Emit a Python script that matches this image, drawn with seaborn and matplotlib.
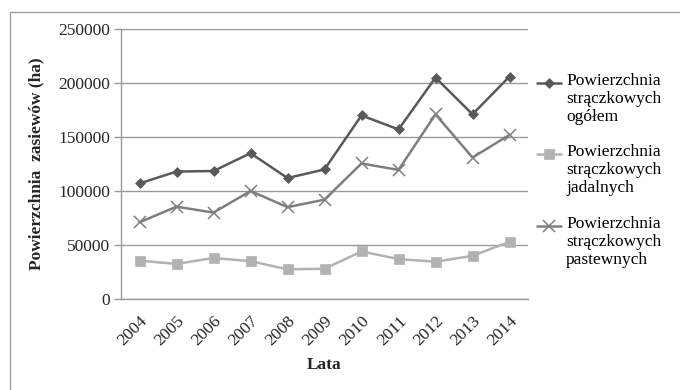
import matplotlib
matplotlib.use("Agg")
import matplotlib.pyplot as plt
from matplotlib.lines import Line2D
from matplotlib.patches import Rectangle
import seaborn as sns
import pandas as pd

years = ["2004", "2005", "2006", "2007", "2008", "2009", "2010", "2011", "2012", "2013", "2014"]
ogolem = [107000, 118000, 118500, 135000, 112000, 120000, 170000, 157000, 205000, 171000, 206000]
jadalne = [35500, 32500, 38000, 35000, 27500, 28000, 44000, 37000, 34500, 40000, 53000]
pastewne = [71000, 85500, 80000, 100000, 85000, 92000, 125500, 119500, 171000, 131000, 152000]

series_names = [
    "Powierzchnia\nstrączkowych\nogółem",
    "Powierzchnia\nstrączkowych\njadalnych",
    "Powierzchnia\nstrączkowych\npastewnych",
]
y_ticks = [0, 50000, 100000, 150000, 200000, 250000]

sns.set_theme(style="white")
plt.rcParams["font.family"] = ["Liberation Serif", "DejaVu Serif"]

colors = ["#595959", "#b2b2b2", "#7f7f7f"]
markers = ["D", "s", "x"]
msizes = [5, 7, 9]

df = pd.DataFrame({
    "Lata": years * 3,
    "val": ogolem + jadalne + pastewne,
    "seria": [series_names[0]] * len(years) + [series_names[1]] * len(years) + [series_names[2]] * len(years),
})

fig = plt.figure(figsize=(6.8, 3.9), dpi=100)
ax = fig.add_axes([121 / 680, 1 - 299 / 390, (528 - 121) / 680, (299 - 29) / 390])

for name, col, mk, ms in zip(series_names, colors, markers, msizes):
    sub = df[df["seria"] == name]
    sns.lineplot(data=sub, x="Lata", y="val", ax=ax, color=col, marker=mk,
                 markersize=ms, linewidth=1.8, markeredgecolor=col,
                 markeredgewidth=1.1 if mk == "x" else 0.5, legend=False, sort=False)

ax.set_xlim(-0.5, len(years) - 0.5)
ax.set_ylim(0, 250000)
ax.set_yticks(y_ticks)
ax.set_yticklabels([str(v) for v in y_ticks], fontsize=12.5)
ax.yaxis.grid(True, color="#999999", linewidth=1)
ax.set_axisbelow(True)

ax.set_xticks(range(len(years)))
ax.set_xticklabels(years, rotation=45, ha="right", rotation_mode="anchor", fontsize=12.5)
ax.set_xticks([i - 0.5 for i in range(len(years) + 1)], minor=True)
ax.tick_params(axis="x", which="major", length=0, pad=10)
ax.tick_params(axis="x", which="minor", length=5, color="#999999", width=1, direction="out")
ax.tick_params(axis="y", which="major", length=5, color="#999999", width=1, direction="out", pad=3, left=True)

for side in ["top", "right"]:
    ax.spines[side].set_visible(False)
for side in ["left", "bottom"]:
    ax.spines[side].set_color("#999999")
    ax.spines[side].set_linewidth(1)

ax.set_xlabel("Lata", fontsize=12.5, fontweight="bold", labelpad=6)
ax.set_ylabel("Powierzchnia  zasiewów (ha)", fontsize=12.5, fontweight="bold", labelpad=10)

# legend with handle aligned to the first line of each label
W, H = 680, 390
entry_y = [83, 154, 226]
for name, col, mk, ms, yy in zip(series_names, colors, markers, msizes, entry_y):
    fig.add_artist(Line2D([537 / W, 561 / W], [1 - yy / H, 1 - yy / H], color=col, linewidth=1.8,
                          transform=fig.transFigure))
    fig.add_artist(Line2D([549 / W], [1 - yy / H], color=col, marker=mk, markersize=ms,
                          markeredgecolor=col, markeredgewidth=1.1 if mk == "x" else 0.5,
                          transform=fig.transFigure))
    fig.text(566 / W, 1 - (yy - 10) / H, name, fontsize=12.5, va="top", ha="left",
             multialignment="left", linespacing=1.15, color="black")

# outer chart frame
fig.add_artist(Rectangle((10 / W, -0.2), 1.3, 1 - 12 / H + 0.2, transform=fig.transFigure,
                         fill=False, edgecolor="#a0a0a0", linewidth=1))

fig.savefig("out.png", dpi=100)
